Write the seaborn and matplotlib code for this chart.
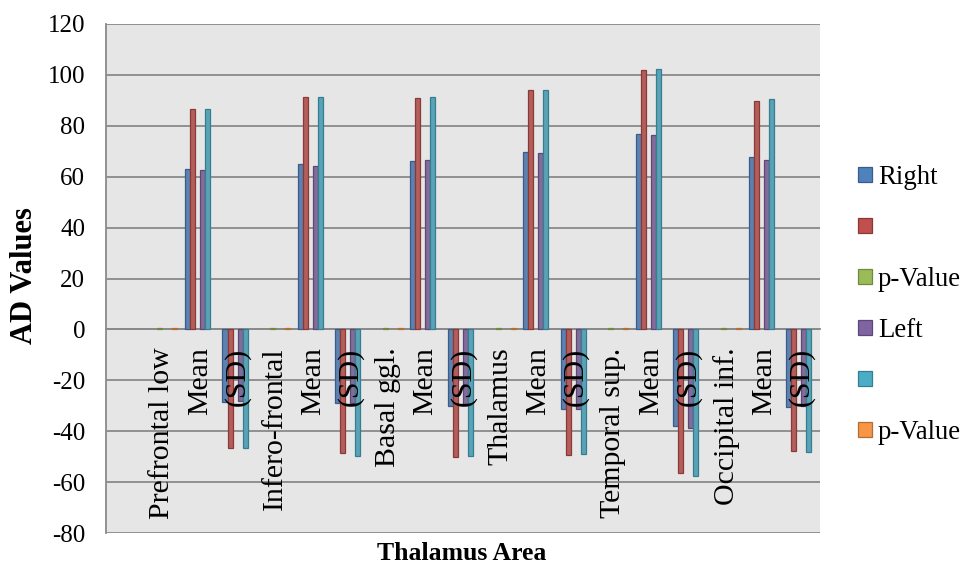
import matplotlib
matplotlib.use("Agg")
import matplotlib.pyplot as plt
import pandas as pd
import seaborn as sns
from matplotlib.patches import Patch

# Category rows (first slot left blank), one label per row
categories = ["", "Prefrontal low", "Mean", "(SD)",
              "Infero-frontal", "Mean", "(SD)",
              "Basal ggl.", "Mean", "(SD)",
              "Thalamus", "Mean", "(SD)",
              "Temporal sup.", "Mean", "(SD)",
              "Occipital inf.", "Mean", "(SD)"]

series_keys = ["right", "right_b", "p_right", "left", "left_b", "p_left"]
legend_labels = ["Right", "", "p-Value", "Left", "", "p-Value"]

N = None
right   = [N, N, 63.1, -28.7, N, 64.8, -29.1, N, 66.1, -30.0, N, 69.7, -31.2, N, 76.8, -37.8, N, 67.7, -30.4]
right_b = [N, N, 86.6, -46.7, N, 91.4, -48.7, N, 91.0, -50.2, N, 94.1, -49.3, N, 102.0, -56.5, N, 89.9, -47.6]
p_right = [N, 0.5, N, N, 0.5, N, N, 0.5, N, N, 0.5, N, N, 0.5, N, N, 0.5, N, N]
left    = [N, N, 62.6, -28.3, N, 64.4, -29.0, N, 66.5, -29.8, N, 69.3, -31.2, N, 76.3, -38.6, N, 66.7, -30.1]
left_b  = [N, N, 86.6, -46.7, N, 91.4, -49.7, N, 91.4, -49.7, N, 94.1, -48.9, N, 102.4, -57.5, N, 90.5, -48.0]
p_left  = [N, 0.5, N, N, 0.5, N, N, 0.5, N, N, 0.5, N, N, 0.5, N, N, 0.5, N, N]

fills = ["#4F81BD", "#C0504D", "#9BBB59", "#8064A2", "#4BACC6", "#F79646"]
edges = ["#385D8A", "#8C3836", "#71893F", "#5C4776", "#357D91", "#B66D31"]

values = [right, right_b, p_right, left, left_b, p_left]
slots = [f"{i:02d}" for i in range(len(categories))]
rows = []
for key, vals in zip(series_keys, values):
    for slot, v in zip(slots, vals):
        if v is not None:
            rows.append({"slot": slot, "series": key, "value": v})
df = pd.DataFrame(rows)

sns.set_style("white")
SERIF = ["Liberation Serif", "DejaVu Serif"]
plt.rcParams["font.family"] = SERIF
plt.rcParams["axes.unicode_minus"] = False
plt.rcParams["text.color"] = "black"
plt.rcParams["xtick.color"] = "black"
plt.rcParams["ytick.color"] = "black"

W, H = 963, 567
fig = plt.figure(figsize=(W / 100, H / 100), dpi=100)
ax = fig.add_axes([106 / W, 1 - 533 / H, 714 / W, 509 / H])
ax.set_facecolor("#E6E6E6")

sns.barplot(data=df, x="slot", y="value", hue="series", order=slots,
            hue_order=series_keys, palette=dict(zip(series_keys, fills)),
            width=0.8, errorbar=None, legend=False, ax=ax, zorder=3)

for cont, ec in zip(ax.containers, edges):
    for bar in cont:
        bar.set_edgecolor(ec)
        bar.set_linewidth(0.9)

grid_c = "#8A8A8A"
ax.set_ylim(-80, 120)
ax.set_yticks(range(-80, 121, 20))
ax.set_xlim(-0.5, len(categories) - 0.5)
ax.yaxis.grid(True, color=grid_c, linewidth=1.3)
ax.xaxis.grid(False)
ax.set_axisbelow(True)

for s in ("top", "right"):
    ax.spines[s].set_visible(False)
ax.spines["left"].set_color(grid_c)
ax.spines["left"].set_linewidth(1.3)
ax.spines["bottom"].set_position(("data", 0))
ax.spines["bottom"].set_color(grid_c)
ax.spines["bottom"].set_linewidth(1.3)

# Category labels hang below the zero line, on top of the bars
ax.set_xticks(range(len(categories)))
ax.set_xticklabels([])
ax.tick_params(axis="x", length=0)
for i, lab in enumerate(categories):
    ax.annotate(lab, xy=(i, 0), xytext=(0, -13), textcoords="offset points",
                rotation=90, ha="center", va="top", fontsize=21.5,
                family=SERIF, color="black", zorder=6)

ax.tick_params(axis="y", length=6, width=1.3, color=grid_c, labelsize=18, pad=9)
ax.set_xlabel("")
ax.set_ylabel("")

fig.text(24 / W, 1 - 276 / H, "AD Values", rotation=90, ha="center", va="center",
         fontsize=22, fontweight="bold", family=SERIF)
fig.text(462 / W, 1 - 554 / H, "Thalamus Area", ha="center", va="center",
         fontsize=18.5, fontweight="bold", family=SERIF)

handles = [Patch(facecolor=f, edgecolor=e, linewidth=0.9) for f, e in zip(fills, edges)]
fig.legend(handles, legend_labels, loc="center left",
           bbox_to_anchor=(847 / W, 1 - 305 / H), frameon=False,
           prop={"family": SERIF, "size": 19.3},
           handlelength=0.53, handleheight=0.53,
           handletextpad=0.22, labelspacing=0.97, borderaxespad=0)

fig.savefig("out.png", dpi=100)
